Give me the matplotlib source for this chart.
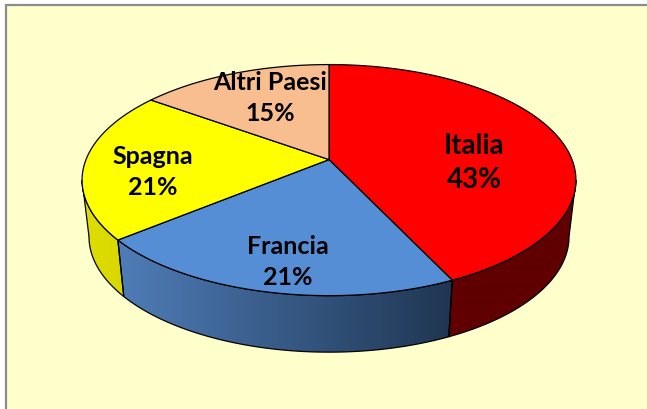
import numpy as np
import matplotlib
matplotlib.use("Agg")
import matplotlib.pyplot as plt
from matplotlib.colors import to_rgb
from matplotlib.patches import Polygon, Rectangle

# slices clockwise from the top
labels = ["Italia", "Francia", "Spagna", "Altri Paesi"]
shares = [43, 21, 21, 15]
top_colors = ["#FF0000", "#558ED5", "#FFFF00", "#F9BE8F"]
side_left = ["#600000", "#4F7DB8", "#DEDE00", "#F9BE8F"]
side_right = ["#600000", "#1F3652", "#D8D800", "#F9BE8F"]
label_pos = [(474, 163), (288, 262), (153, 172), (270, 98)]
label_size = [20, 18, 18, 18]

# perspective of the disc
CX, CY = 329, 160.6
A, B, K = 111.9, 243.0, 0.1775
# rim angles where the disc is widest, the wall shows between them
T_RIGHT = np.arccos(-K)
T_LEFT = 2 * np.pi - T_RIGHT


def rim_top(t):
    d = 1 + K * np.cos(t)
    return CX + B * np.sin(t) / d, CY - A * np.cos(t) / d


def rim_bottom(t):
    d = 1 + K * np.cos(t)
    return CX + 0.972 * B * np.sin(t) / d, CY + 56.5 - A * np.cos(t) / d


def main():
    fig = plt.figure(figsize=(6.47, 4.10), dpi=100, facecolor="white")
    ax = fig.add_axes([0, 0, 1, 1])
    ax.add_patch(Rectangle((5.5, 5.5), 700, 500, fc="#FFFFCC", ec="#8C8C8C", lw=1.6))

    edges = np.radians(np.cumsum([0] + shares) * 3.6)

    # side wall, a gradient clipped to each slice
    for i in range(4):
        t0, t1 = max(edges[i], T_RIGHT), min(edges[i + 1], T_LEFT)
        if t1 <= t0:
            continue
        ts = np.linspace(t0, t1, 120)
        xt, yt = rim_top(ts)
        xb, yb = rim_bottom(ts)
        wall = np.column_stack([np.r_[xt, xb[::-1]], np.r_[yt, yb[::-1]]])
        lo, hi = np.array(to_rgb(side_left[i])), np.array(to_rgb(side_right[i]))
        grad = lo + (hi - lo) * np.linspace(0, 1, 256)[None, :, None]
        im = ax.imshow(grad, extent=[wall[:, 0].min(), wall[:, 0].max(), wall[:, 1].max(), wall[:, 1].min()],
                       aspect="auto", interpolation="bilinear", zorder=2)
        im.set_clip_path(Polygon(wall, transform=ax.transData))
        ax.add_patch(Polygon(wall, fc="none", ec="black", lw=0.9, zorder=3))

    # top of the disc
    for i in range(4):
        ts = np.linspace(edges[i], edges[i + 1], 200)
        x, y = rim_top(ts)
        pts = np.column_stack([np.r_[CX, x], np.r_[CY, y]])
        ax.add_patch(Polygon(pts, fc=top_colors[i], ec="black", lw=0.9, joinstyle="round", zorder=4))

    for name, val, pos, size in zip(labels, shares, label_pos, label_size):
        ax.text(pos[0], pos[1], f"{name}\n{val}%", ha="center", va="center", family="Lato",
                weight="bold", fontsize=size, linespacing=1.42, color="black", zorder=5)

    ax.set_xlim(0, 647)
    ax.set_ylim(410, 0)
    ax.axis("off")
    fig.savefig("out.png", dpi=100)


if __name__ == "__main__":
    main()
